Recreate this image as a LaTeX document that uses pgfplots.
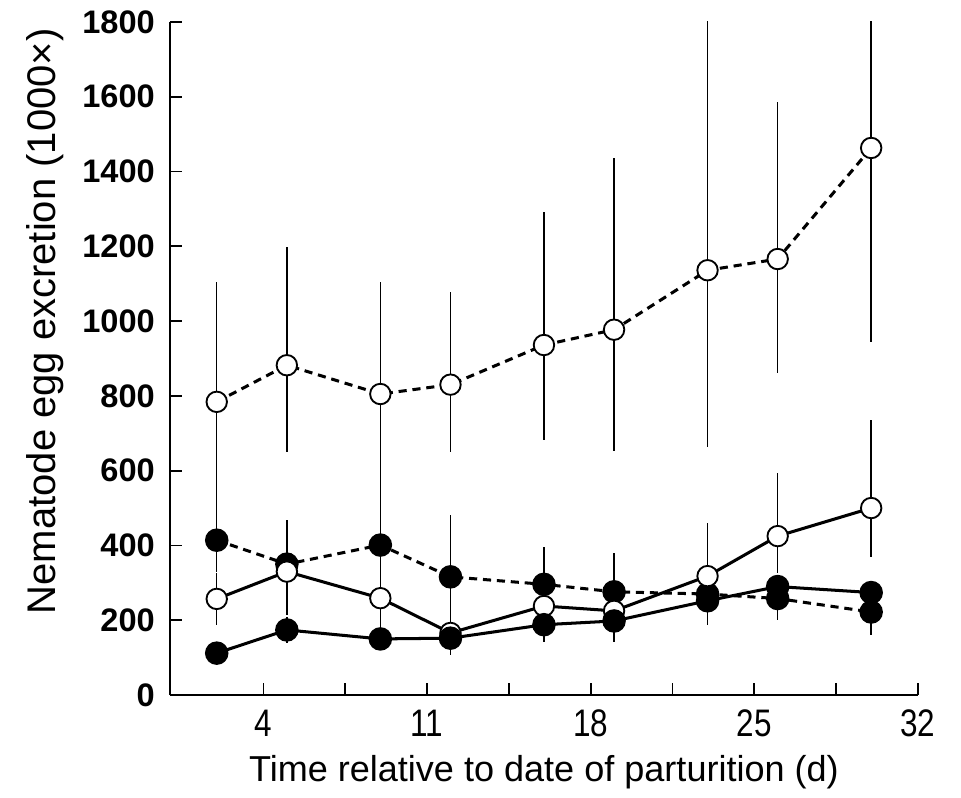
\documentclass[border=0pt]{standalone}
\usepackage{fontspec}
\setmainfont{Liberation Sans}
\usepackage{pgfplots}
\usepackage{pgfplotstable}
\pgfplotsset{compat=1.18}

% x  y  ep  em
\pgfplotstableread{
x  y    ep   em
2  784  321  325
5  882  317  231
9  805  300  221
12 830  248  179
16 936  356  254
19 977  458  324
23 1136 700  472
26 1166 420  306
30 1463 550  518
}\openDash
\pgfplotstableread{
x  y    ep   em
2  414  45   85
5  350  118  120
9  401  183  150
12 316  165  120
16 296  101  60
19 276  103  50
23 270  40   40
26 258  30   58
30 222  30   62
}\fillDash
\pgfplotstableread{
x  y    ep   em
2  257  70   70
5  330  115  115
9  259  76   76
12 166  40   40
16 238  40   40
19 225  40   40
23 318  141  60
26 425  168  100
30 500  235  130
}\openSolid
\pgfplotstableread{
x  y    ep   em
2  112  20   20
5  174  35   35
9  150  30   30
12 152  40   45
16 188  40   45
19 198  30   55
23 252  40   65
26 290  30   40
30 274  30   60
}\fillSolid

\begin{document}
\begin{tikzpicture}
\def\px{0.43pt}
\begin{axis}[
    scale only axis,
    width=321.6pt, height=289.4pt,
    xmin=0, xmax=32, ymin=0, ymax=1800,
    axis lines*=left,
    axis line style={line width=0.9pt},
    tick align=inside,
    tick style={black, line width=0.8pt},
    major tick length=5pt, minor tick length=5pt,
    xtick={4,11,18,25,32},
    minor xtick={7.5,14.5,21.5,28.5},
    ytick={0,200,...,1800},
    /pgf/number format/assume math mode=true,
    /pgf/number format/set thousands separator={},
    yticklabel style={font=\fontsize{14}{16}\selectfont\bfseries, xshift=-3pt},
    xticklabel={\scalebox{0.82}[1]{\pgfmathprintnumber{\tick}}},
    xticklabel style={font=\fontsize{16.5}{18}\selectfont, yshift=-3pt},
    xlabel={Time relative to date of parturition (d)},
    ylabel={Nematode egg excretion (1000×)},
    xlabel style={font=\fontsize{15.5}{17}\selectfont, yshift=-1pt},
    ylabel style={font=\fontsize{17.2}{19}\selectfont, xshift=16pt, yshift=1pt},
    error bars/y dir=both,
    error bars/y explicit,
    error bars/error mark=none,
    error bars/error bar style={line width=0.6pt, solid, black},
    every axis plot/.append style={black, line width=1.3pt},
]
\addplot[dash pattern=on 3.5pt off 2.5pt, mark=*, mark size=4.4pt,
    mark options={solid, fill=white, line width=0.8pt}]
    table[x=x, y=y, y error plus=ep, y error minus=em] {\openDash};
\addplot[dash pattern=on 3.5pt off 2.5pt, mark=*, mark size=4.4pt,
    mark options={solid, fill=black}]
    table[x=x, y=y, y error plus=ep, y error minus=em] {\fillDash};
\addplot[solid, mark=*, mark size=4.4pt,
    mark options={solid, fill=white, line width=0.8pt}]
    table[x=x, y=y, y error plus=ep, y error minus=em] {\openSolid};
\addplot[solid, mark=*, mark size=4.4pt,
    mark options={solid, fill=black}]
    table[x=x, y=y, y error plus=ep, y error minus=em] {\fillSolid};
\end{axis}
\path (current axis.south west) ++(-170*\px, -90*\px) coordinate (bbl);
\path (current axis.south west) ++(791*\px, 695*\px) coordinate (bbr);
\useasboundingbox (bbl) rectangle (bbr);
\end{tikzpicture}
\end{document}
